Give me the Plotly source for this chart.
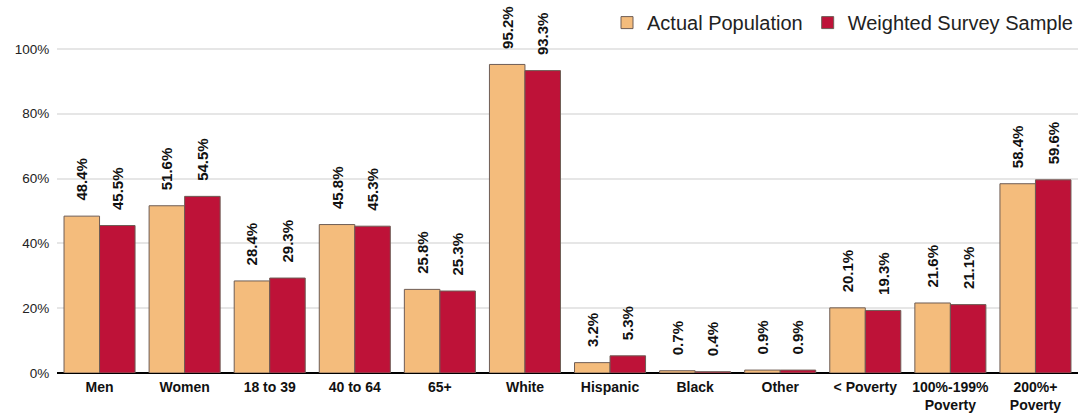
import plotly.graph_objects as go

# data
categories = ["Men", "Women", "18 to 39", "40 to 64", "65+", "White", "Hispanic",
              "Black", "Other", "< Poverty", "100%-199%<br>Poverty", "200%+<br>Poverty"]
actual_population = [48.4, 51.6, 28.4, 45.8, 25.8, 95.2, 3.2, 0.7, 0.9, 20.1, 21.6, 58.4]
weighted_sample = [45.5, 54.5, 29.3, 45.3, 25.3, 93.3, 5.3, 0.4, 0.9, 19.3, 21.1, 59.6]

colors = {"actual": "#F4BC7C", "weighted": "#BE1238", "edge": "#6e5d55"}
pad = "\u00a0" * 3  # small gap between bar top and its label

fig = go.Figure()
for name, vals, col in [("Actual Population", actual_population, colors["actual"]),
                        ("Weighted Survey Sample", weighted_sample, colors["weighted"])]:
    fig.add_trace(go.Bar(
        x=categories, y=[v / 100 for v in vals], name=name,
        marker=dict(color=col, line=dict(color=colors["edge"], width=1)),
        text=[f"<b>{pad}{v:.1f}%</b>" for v in vals],
        textposition="outside", textangle=-90, constraintext="none",
        textfont=dict(family="Liberation Sans, Arial, sans-serif", size=15, color="#111"),
        cliponaxis=False,
    ))

fig.update_layout(
    width=1082, height=417,
    margin=dict(l=57, r=4, t=10, b=44, autoexpand=False),
    barmode="group", bargap=0.165, bargroupgap=0.0,
    plot_bgcolor="white", paper_bgcolor="white",
    font=dict(family="Liberation Sans, Arial, sans-serif", color="#222"),
    legend=dict(orientation="h", x=1, xanchor="right", y=1.019, yanchor="top",
                font=dict(size=20, color="#222"), itemwidth=30, traceorder="normal",
                bgcolor="rgba(0,0,0,0)"),
    showlegend=True,
)
fig.update_xaxes(tickfont=dict(size=14, color="#111"), tickprefix="<b>", ticksuffix="</b>",
                 showline=False, ticks="", ticklabelstandoff=4)
fig.update_yaxes(range=[0, 1.12], tickvals=[0, 0.2, 0.4, 0.6, 0.8, 1.0],
                 tickformat=".0%", tickfont=dict(size=13.5, color="#222"),
                 gridcolor="#e6e6e6", gridwidth=1.5,
                 zeroline=True, zerolinecolor="#000", zerolinewidth=2, ticklen=4,
                 ticks="outside", tickcolor="white")

fig.write_html("out.html", config={"displayModeBar": False},
               post_script="document.body.style.margin='0px';")
